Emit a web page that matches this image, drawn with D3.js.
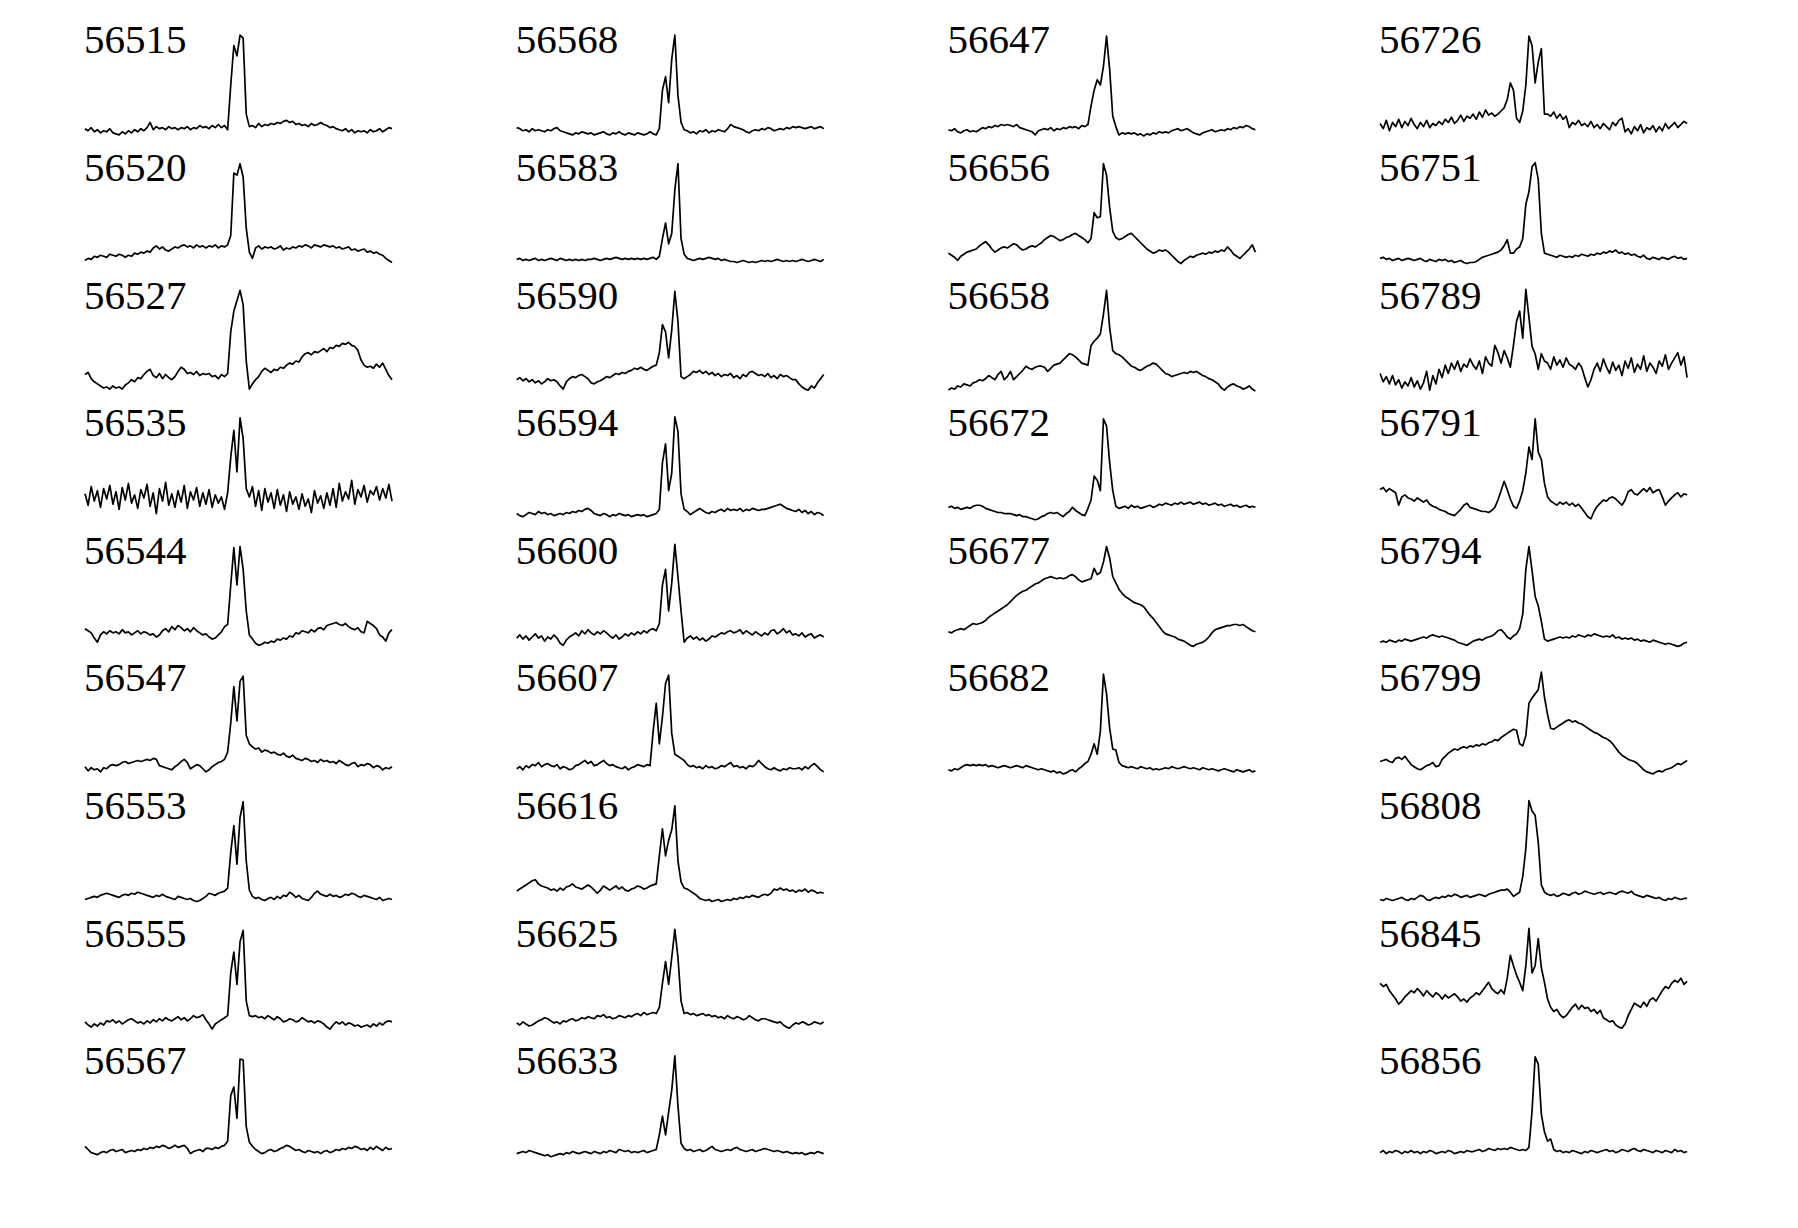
<!DOCTYPE html>
<html><head><meta charset="utf-8">
<script src="https://cdn.jsdelivr.net/npm/d3@7"></script>
<style>body{margin:0;background:#fff}svg{display:block}</style>
</head><body>
<svg id="chart" width="1798" height="1228"></svg>
<script>
// Epoch labels (MJD), grouped by column of the figure
const column1 = ["56515","56520","56527","56535","56544","56547","56553","56555","56567"];
const column2 = ["56568","56583","56590","56594","56600","56607","56616","56625","56633"];
const column3 = ["56647","56656","56658","56672","56677","56682"];
const column4 = ["56726","56751","56789","56791","56794","56799","56808","56845","56856"];

// Relative flux (0 = panel minimum, 100 = panel maximum), 100 samples across the window
const flux_56515 = [8,6,9,5,7,4,6,5,8,4,3,2,5,3,6,4,7,5,8,6,9,14,7,10,8,9,7,10,8,9,7,9,8,10,7,9,8,11,9,10,8,11,9,12,9,11,7,50,88,78,98,95,22,10,11,9,13,10,12,11,13,12,14,13,15,16,14,15,12,13,11,12,10,13,11,12,14,12,11,9,10,8,7,6,8,5,7,4,6,5,6,4,7,5,6,8,5,7,9,8];
const flux_56520 = [4,6,5,8,7,9,8,7,10,9,8,10,9,7,9,8,11,10,12,11,13,12,16,18,15,17,14,13,15,17,16,18,19,17,18,16,19,17,18,16,18,17,19,16,18,17,19,28,88,86,97,84,35,12,6,16,18,15,17,16,17,15,16,18,14,16,15,17,16,18,17,19,18,16,19,18,17,19,18,17,18,16,17,15,16,17,14,15,13,14,15,12,13,11,12,10,9,6,4,2];
const flux_56527 = [17,19,13,10,8,6,4,5,3,6,4,5,3,7,9,12,10,14,13,17,20,22,16,14,18,13,17,14,12,15,20,24,22,18,19,17,20,16,18,17,18,15,16,13,17,15,18,58,78,88,98,84,30,3,8,12,15,20,23,21,19,22,21,24,23,26,28,27,30,29,34,37,38,36,39,38,40,42,39,43,42,45,44,47,46,48,45,44,40,31,26,24,25,23,27,24,28,22,16,12];
const flux_56535 = [25,14,32,18,28,12,30,20,33,15,27,10,31,19,35,16,24,11,29,21,34,13,26,6,30,18,36,14,25,12,28,17,33,11,27,19,31,13,26,15,29,12,24,16,22,10,26,60,86,46,98,78,30,22,32,13,28,9,30,17,26,11,29,14,24,8,27,15,22,10,25,13,20,7,28,16,23,11,26,14,30,12,35,18,27,20,38,15,29,22,33,17,28,24,32,19,30,21,34,18];
const flux_56544 = [18,16,14,9,5,12,15,13,16,14,15,13,17,14,15,12,14,16,13,15,14,12,13,10,12,16,18,15,20,17,21,19,16,18,15,19,16,14,12,13,10,8,9,12,15,20,22,60,96,60,97,75,35,12,8,4,2,3,5,4,6,5,8,7,9,8,11,10,14,13,16,15,14,17,15,18,19,17,21,22,23,24,22,21,23,20,18,17,19,15,14,25,23,21,18,12,10,6,14,17];
const flux_56547 = [8,4,7,5,6,3,7,6,9,10,9,10,12,13,11,12,13,14,13,14,15,14,16,15,9,8,7,6,5,8,10,13,15,12,6,8,10,9,6,3,5,8,10,12,13,15,22,50,85,52,90,95,38,30,27,25,26,22,24,23,21,22,20,19,21,18,17,19,16,15,14,16,15,13,14,12,15,13,14,12,13,11,14,12,10,9,11,12,8,10,9,11,10,7,9,8,5,7,6,8];
const flux_56553 = [3,4,5,6,5,7,8,9,8,7,6,5,7,8,7,9,8,10,9,8,7,6,5,7,6,8,6,5,4,3,6,5,4,3,4,2,1,2,4,6,9,8,7,9,10,11,14,48,74,37,82,97,40,12,6,4,5,3,2,4,5,3,6,4,7,6,10,8,5,7,4,3,2,5,9,11,8,7,6,8,6,7,5,6,8,7,9,8,6,5,7,6,5,4,3,5,2,3,4,3];
const flux_56555 = [8,5,3,6,4,7,5,9,8,10,7,9,6,8,10,11,9,7,8,6,9,7,10,8,11,9,12,10,9,11,13,10,12,9,11,14,12,13,15,10,6,1,6,8,10,12,14,55,75,44,85,96,28,14,13,14,12,13,11,14,12,10,13,11,8,9,11,10,8,9,12,10,8,9,7,9,8,6,3,1,5,8,6,8,5,7,6,4,5,3,4,5,3,6,4,7,5,8,9,8];
const flux_56567 = [11,8,5,4,3,5,6,5,7,8,6,7,8,5,6,7,6,8,7,9,8,10,9,11,10,12,11,9,10,12,10,11,12,9,4,6,7,8,6,9,9,8,10,9,11,12,16,60,68,38,95,94,30,15,11,8,6,4,5,7,8,6,7,9,10,12,11,9,7,8,6,5,7,6,5,6,4,6,7,5,6,8,7,9,8,10,9,11,10,8,9,7,10,8,11,9,7,10,8,9];
const flux_56568 = [9,8,6,7,5,8,6,7,6,5,7,6,8,9,6,5,4,3,2,4,3,5,4,3,4,2,3,4,5,3,2,4,3,5,3,2,4,3,2,4,3,2,3,5,3,2,8,45,58,33,75,98,40,14,7,6,4,5,3,6,5,7,4,6,5,7,6,5,8,12,10,9,8,7,5,4,6,7,6,8,7,9,8,6,7,8,7,9,8,10,9,10,9,8,9,10,8,9,10,8];
const flux_56583 = [5,6,4,5,4,5,6,4,5,4,5,6,5,4,6,5,4,5,4,5,4,5,4,5,5,6,5,4,5,6,5,6,7,6,5,6,5,6,5,6,5,6,5,6,7,5,8,25,40,20,30,72,97,25,10,6,5,4,5,6,5,6,7,6,5,6,4,5,4,3,3,2,3,4,3,2,3,2,3,4,3,4,3,4,5,4,3,4,3,4,3,4,5,4,3,4,5,4,3,5];
const flux_56590 = [12,14,11,13,10,12,9,11,8,10,13,11,12,10,6,3,10,13,15,14,16,17,15,13,9,8,10,11,13,15,14,16,18,17,19,18,20,21,23,22,24,22,21,23,25,26,38,65,58,33,60,97,68,15,13,15,17,20,19,21,18,20,17,19,16,18,15,17,16,18,14,16,13,17,15,19,20,18,16,17,15,18,14,16,13,17,15,16,14,12,12,8,5,3,2,6,4,9,13,17];
const flux_56594 = [6,4,3,5,7,6,5,8,6,7,5,6,4,5,6,5,7,6,8,7,9,8,10,11,9,6,5,4,6,5,3,5,4,6,5,4,5,3,4,5,4,5,3,4,5,6,10,55,73,28,45,99,85,25,10,8,5,7,9,11,9,7,6,8,7,9,10,8,11,9,10,9,11,8,10,9,11,10,9,10,10,11,12,13,14,15,13,11,10,9,8,10,7,9,6,8,5,7,6,4];
const flux_56600 = [9,12,8,11,7,10,13,9,11,6,10,8,12,9,4,2,7,10,12,14,11,16,13,17,14,12,15,13,16,14,11,9,12,8,10,13,11,14,12,15,13,16,14,17,18,16,23,60,75,35,62,99,68,35,5,9,11,8,10,7,9,6,8,11,10,12,14,13,15,16,14,15,17,13,16,14,12,15,13,11,14,12,16,17,13,15,18,14,16,12,13,11,14,10,12,13,9,11,12,10];
const flux_56607 = [6,8,5,9,7,10,9,12,8,10,11,9,8,10,6,8,7,5,6,9,10,12,14,11,13,9,10,12,14,11,9,10,8,7,6,8,5,7,8,10,9,8,10,9,42,69,30,56,88,96,40,20,18,16,14,10,8,9,7,8,6,9,7,8,6,7,9,8,10,12,8,9,7,8,6,9,8,10,14,11,8,6,5,7,5,4,6,5,7,6,6,7,5,8,6,9,11,8,5,3];
const flux_56616 = [11,13,15,17,19,21,22,18,16,15,14,12,13,11,14,12,15,16,18,15,14,13,15,17,15,12,9,12,16,14,12,14,16,13,15,12,11,13,14,16,15,13,14,16,17,18,45,71,45,60,70,93,40,20,14,13,11,9,7,4,3,2,3,1,2,3,1,2,3,2,4,3,5,4,6,5,7,6,5,7,8,7,9,13,12,14,12,13,11,12,10,12,11,13,10,12,11,9,10,9];
const flux_56625 = [7,5,8,6,4,5,7,9,10,12,11,9,7,8,6,9,8,10,11,9,10,12,11,13,12,11,14,13,15,12,13,11,12,14,13,12,14,13,15,16,14,17,15,16,17,16,22,45,66,44,70,97,70,28,16,17,15,16,14,15,16,14,15,13,14,12,13,11,14,12,11,13,12,10,11,14,12,10,9,11,11,10,9,8,7,8,5,3,2,5,7,6,8,7,5,6,8,7,6,8];
const flux_56633 = [4,5,6,5,7,6,5,4,3,2,3,1,2,3,4,3,5,4,6,5,4,5,6,5,4,6,5,4,6,5,7,6,5,8,7,6,7,5,6,5,6,7,5,6,7,8,22,40,22,44,65,98,50,14,9,7,8,6,7,8,6,7,9,11,8,7,6,7,8,7,9,10,8,7,6,7,8,6,7,8,9,8,7,6,7,6,5,6,5,4,5,4,5,3,4,5,4,6,5,4];
const flux_56647 = [7,6,8,5,4,6,7,5,6,5,7,9,8,10,9,11,10,12,11,12,11,10,12,9,8,7,6,5,2,6,7,8,7,9,6,8,7,9,8,10,9,10,8,11,10,12,30,45,55,50,68,97,65,20,10,2,4,3,4,3,4,2,3,1,3,2,4,3,5,4,5,4,6,7,8,6,7,8,6,4,3,2,4,5,6,7,5,6,7,6,8,7,9,8,10,9,11,10,8,7];
const flux_56656 = [11,9,7,4,8,10,12,13,14,15,18,20,22,19,15,12,14,16,17,16,18,20,19,16,14,15,17,18,17,19,21,24,26,28,27,25,23,24,26,27,29,30,28,26,24,21,25,50,45,46,97,86,55,32,26,24,25,27,29,30,27,24,21,18,15,13,11,12,14,13,14,12,9,6,3,1,4,6,8,7,9,10,11,10,12,11,13,12,14,13,17,14,10,8,6,9,12,15,19,12];
const flux_56658 = [2,4,3,6,5,8,7,6,9,10,12,11,13,16,14,12,17,20,12,15,20,12,15,18,21,25,23,22,24,25,25,24,20,23,26,27,28,31,34,37,36,34,31,28,27,26,45,49,52,56,75,98,62,40,37,36,34,31,28,25,24,22,21,23,25,26,28,27,24,21,18,17,15,16,17,18,19,18,20,19,20,18,16,15,13,12,10,8,4,2,5,7,8,6,5,3,4,6,3,1];
const flux_56672 = [12,13,11,12,10,11,12,11,13,14,14,13,11,10,9,8,7,7,6,6,6,5,4,5,3,3,2,1,0,1,3,4,6,7,6,7,5,3,6,8,12,9,7,5,4,11,19,42,38,28,97,90,55,28,13,11,12,13,11,14,12,13,11,12,13,14,12,13,15,14,16,15,14,16,15,17,15,16,17,15,16,17,15,16,14,15,16,14,15,13,14,15,13,14,12,13,14,12,13,12];
const flux_56677 = [15,14,16,17,18,17,19,21,23,22,23,24,26,29,31,33,35,37,39,41,44,47,50,52,54,55,57,59,61,62,64,66,67,68,67,66,67,66,67,69,70,68,65,63,64,65,66,76,70,72,82,97,86,68,62,56,52,49,47,45,43,42,41,39,35,31,28,24,20,16,13,12,11,10,8,7,6,4,2,1,3,4,5,7,10,14,17,18,19,20,21,21,22,22,21,22,20,18,16,15];
const flux_56682 = [5,4,6,5,7,9,10,9,10,9,10,9,10,8,9,8,7,8,9,8,7,8,9,8,7,9,8,7,6,5,6,5,4,3,4,2,3,1,2,4,5,3,6,8,11,13,20,30,20,42,97,78,45,25,24,12,9,8,7,8,7,6,8,7,6,7,5,6,5,6,7,6,8,7,6,7,8,7,6,7,6,5,7,6,5,6,5,4,5,6,5,4,3,5,4,3,4,5,3,4];
const flux_56726 = [13,8,16,6,14,10,17,9,15,11,18,12,8,14,10,16,9,13,11,15,12,17,14,19,13,16,21,15,20,18,22,17,24,19,26,21,23,20,22,25,28,36,52,45,18,14,25,50,97,88,52,72,85,22,22,20,24,18,22,17,20,9,14,12,16,11,13,10,15,9,12,8,13,10,7,14,11,16,18,5,8,3,10,6,12,4,9,7,11,5,10,6,13,8,11,14,9,12,15,13];
const flux_56751 = [6,7,5,6,4,5,6,4,5,6,5,4,5,6,4,3,5,4,3,5,4,5,3,4,2,3,4,2,1,2,2,3,5,7,8,9,10,11,12,14,18,24,11,11,15,17,25,58,70,94,98,82,30,11,10,9,8,7,9,8,7,8,7,9,8,10,9,8,10,9,11,10,12,11,13,12,14,11,12,10,11,9,10,8,7,9,6,5,7,6,5,7,6,5,7,8,6,7,5,6];
const flux_56789 = [18,10,15,8,16,7,12,4,10,6,14,5,11,3,9,20,2,16,8,22,14,26,18,28,22,30,20,27,24,32,26,22,30,18,34,28,25,45,38,28,40,33,24,45,68,78,52,99,72,44,37,22,37,30,28,22,34,26,31,24,33,27,25,22,28,24,14,5,12,22,28,20,32,24,18,29,21,26,16,30,23,33,19,27,22,35,20,28,24,18,30,25,36,22,28,33,38,26,34,14];
const flux_56791 = [29,31,27,30,28,26,14,22,24,21,20,18,21,19,17,19,15,13,12,10,9,8,6,5,4,7,10,14,16,12,11,10,9,8,8,7,9,12,19,28,37,29,20,13,11,18,28,45,70,58,97,65,58,35,22,18,16,14,17,15,17,14,16,13,15,11,7,3,1,8,13,16,19,18,21,22,20,17,14,19,27,29,25,24,27,30,27,31,26,28,29,22,14,18,21,24,26,22,25,24];
const flux_56794 = [5,6,5,7,6,5,7,6,8,7,6,7,8,9,10,9,11,12,11,10,11,10,9,8,7,5,4,3,2,4,6,7,8,7,9,10,11,13,16,17,14,10,8,11,13,18,32,75,97,74,49,40,25,8,6,7,8,9,10,9,10,9,11,10,12,11,10,12,11,13,12,11,10,11,10,12,9,10,8,9,8,9,7,8,6,7,6,5,7,6,5,4,3,4,3,2,1,2,4,5];
const flux_56799 = [13,14,15,13,12,16,17,15,18,14,10,8,6,5,7,9,10,12,8,9,15,18,21,23,25,24,26,27,26,28,27,29,28,30,29,31,32,34,33,36,38,40,42,44,43,30,28,38,69,74,78,82,99,75,58,45,44,46,48,50,52,53,51,52,50,49,47,45,43,41,40,38,36,35,33,30,26,22,19,17,15,14,13,11,8,5,3,2,1,3,4,3,5,6,7,9,11,10,12,14];
const flux_56808 = [3,2,4,3,2,3,4,5,3,2,4,3,5,7,6,3,2,4,5,4,6,5,7,6,8,7,5,6,7,5,6,7,8,7,6,8,9,10,11,12,12,13,10,6,8,10,25,52,98,88,84,58,17,10,8,7,8,6,7,9,8,7,9,10,8,9,11,10,9,8,9,10,8,9,10,9,8,10,11,10,9,11,8,7,6,5,7,6,5,4,5,3,2,4,3,5,4,3,4,4];
const flux_56845 = [45,42,44,38,34,30,25,28,32,35,38,36,40,37,33,38,35,32,36,34,30,34,31,33,35,32,28,30,27,31,33,36,34,38,42,46,40,37,35,39,35,50,72,62,53,46,38,62,98,55,62,88,60,46,30,22,18,20,15,12,14,18,22,25,20,24,21,22,18,20,16,19,12,10,8,9,5,3,2,6,14,20,26,24,22,27,23,29,31,28,33,38,42,40,45,48,46,50,44,47];
const flux_56856 = [5,7,4,6,5,7,6,4,6,5,7,5,6,4,6,5,7,6,4,5,6,5,7,6,4,5,6,5,7,6,6,7,8,6,7,9,8,7,9,8,9,8,10,9,8,7,8,7,10,45,97,90,42,25,16,18,8,6,7,5,6,5,7,6,5,4,6,5,7,6,5,6,7,8,6,7,5,6,8,7,6,8,9,7,6,8,7,6,5,7,6,5,7,6,5,8,6,7,5,6];

const spectra = {
  "56515":flux_56515,"56520":flux_56520,"56527":flux_56527,"56535":flux_56535,"56544":flux_56544,
  "56547":flux_56547,"56553":flux_56553,"56555":flux_56555,"56567":flux_56567,
  "56568":flux_56568,"56583":flux_56583,"56590":flux_56590,"56594":flux_56594,"56600":flux_56600,
  "56607":flux_56607,"56616":flux_56616,"56625":flux_56625,"56633":flux_56633,
  "56647":flux_56647,"56656":flux_56656,"56658":flux_56658,"56672":flux_56672,"56677":flux_56677,"56682":flux_56682,
  "56726":flux_56726,"56751":flux_56751,"56789":flux_56789,"56791":flux_56791,"56794":flux_56794,
  "56799":flux_56799,"56808":flux_56808,"56845":flux_56845,"56856":flux_56856
};
const columns = [column1, column2, column3, column4];

// layout
const colLeft0 = 85, colStep = 431.7, plotW = 307;
const rowTop0 = 33, rowStep = 127.6, plotH = 104;

const svg = d3.select("#chart");
columns.forEach((col, c) => {
  col.forEach((ep, r) => {
    const vals = spectra[ep];
    const left = colLeft0 + c * colStep;
    const top = rowTop0 + r * rowStep;
    const x = d3.scaleLinear().domain([0, vals.length - 1]).range([left, left + plotW]);
    const y = d3.scaleLinear().domain([0, 100]).range([top + plotH, top]);
    const line = d3.line().x((d, i) => x(i)).y(d => y(d));
    svg.append("path").datum(vals)
      .attr("d", line)
      .attr("fill", "none")
      .attr("stroke", "#000")
      .attr("stroke-width", 1.7)
      .attr("stroke-linejoin", "round");
    svg.append("text")
      .attr("x", left - 1)
      .attr("y", top + 20.3)
      .attr("font-family", "'Liberation Serif', 'DejaVu Serif', serif")
      .attr("font-size", 41)
      .attr("fill", "#000")
      .text(ep);
  });
});
</script>
</body></html>
